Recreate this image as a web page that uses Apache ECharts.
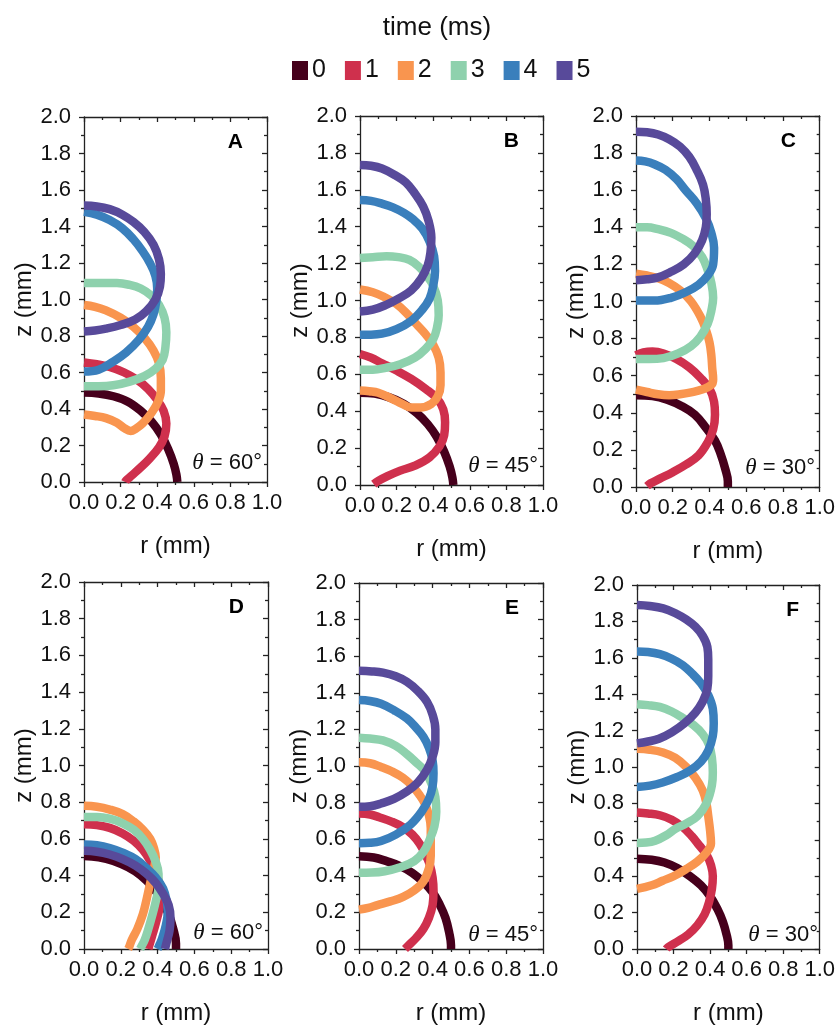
<!DOCTYPE html>
<html>
<head>
<meta charset="utf-8">
<script src="https://cdn.jsdelivr.net/npm/echarts@6/dist/echarts.min.js"></script>
<style>
  html, body { margin: 0; padding: 0; background: #fff; }
  #chart { width: 838px; height: 1026px; }
</style>
</head>
<body>
<div id="chart"></div>
<script>
// time steps (ms) shown in the legend
const times = ["0", "1", "2", "3", "4", "5"];
const panelLetters = ["A", "B", "C", "D", "E", "F"];
const angles = [60, 45, 30, 60, 45, 30];

// droplet profiles [r, z] in mm, one list per time step
const curvesA = [
  [[0, 0.49], [0.08, 0.485], [0.16, 0.47], [0.24, 0.44], [0.31, 0.39], [0.37, 0.33], [0.42, 0.26], [0.46, 0.18], [0.49, 0.1], [0.505, 0.04], [0.51, 0]],
  [[0, 0.655], [0.07, 0.645], [0.14, 0.63], [0.22, 0.6], [0.29, 0.56], [0.35, 0.51], [0.4, 0.45], [0.435, 0.39], [0.45, 0.32], [0.44, 0.25], [0.41, 0.19], [0.36, 0.13], [0.31, 0.08], [0.26, 0.035], [0.23, 0.008], [0.225, 0]],
  [[0, 0.97], [0.06, 0.96], [0.12, 0.94], [0.2, 0.9], [0.27, 0.85], [0.33, 0.79], [0.38, 0.72], [0.41, 0.65], [0.42, 0.57], [0.42, 0.5], [0.405, 0.44], [0.37, 0.38], [0.32, 0.32], [0.28, 0.29], [0.255, 0.28], [0.22, 0.295], [0.18, 0.325], [0.12, 0.35], [0.06, 0.362], [0, 0.37]],
  [[0, 1.09], [0.1, 1.09], [0.18, 1.09], [0.25, 1.08], [0.31, 1.06], [0.37, 1.02], [0.41, 0.97], [0.44, 0.9], [0.45, 0.82], [0.445, 0.74], [0.43, 0.67], [0.39, 0.62], [0.33, 0.58], [0.25, 0.55], [0.16, 0.53], [0.08, 0.525], [0, 0.525]],
  [[0, 1.48], [0.07, 1.465], [0.14, 1.435], [0.21, 1.39], [0.27, 1.33], [0.32, 1.265], [0.36, 1.2], [0.39, 1.13], [0.4, 1.06], [0.395, 0.99], [0.38, 0.92], [0.35, 0.85], [0.3, 0.78], [0.23, 0.71], [0.16, 0.66], [0.08, 0.615], [0, 0.605]],
  [[0, 1.515], [0.07, 1.51], [0.14, 1.495], [0.21, 1.465], [0.27, 1.425], [0.33, 1.37], [0.38, 1.3], [0.41, 1.22], [0.42, 1.14], [0.415, 1.07], [0.39, 1.0], [0.34, 0.935], [0.28, 0.89], [0.2, 0.86], [0.12, 0.84], [0.06, 0.83], [0, 0.825]]
];
const curvesB = [
  [[0, 0.5], [0.08, 0.495], [0.16, 0.475], [0.24, 0.44], [0.31, 0.39], [0.37, 0.33], [0.42, 0.26], [0.46, 0.18], [0.49, 0.1], [0.505, 0.04], [0.51, 0]],
  [[0, 0.71], [0.06, 0.69], [0.12, 0.66], [0.2, 0.62], [0.28, 0.575], [0.36, 0.52], [0.42, 0.47], [0.455, 0.41], [0.465, 0.34], [0.46, 0.27], [0.435, 0.21], [0.38, 0.15], [0.3, 0.105], [0.22, 0.078], [0.15, 0.048], [0.1, 0.022], [0.075, 0.005]],
  [[0, 1.06], [0.07, 1.045], [0.13, 1.02], [0.2, 0.98], [0.26, 0.925], [0.31, 0.87], [0.36, 0.815], [0.4, 0.76], [0.43, 0.69], [0.44, 0.61], [0.44, 0.54], [0.425, 0.48], [0.39, 0.44], [0.33, 0.42], [0.28, 0.42], [0.23, 0.44], [0.17, 0.47], [0.1, 0.5], [0.05, 0.508], [0, 0.512]],
  [[0, 1.23], [0.07, 1.235], [0.145, 1.24], [0.21, 1.235], [0.27, 1.22], [0.32, 1.185], [0.36, 1.14], [0.4, 1.08], [0.425, 1.0], [0.43, 0.92], [0.42, 0.85], [0.4, 0.79], [0.36, 0.74], [0.3, 0.69], [0.22, 0.655], [0.14, 0.635], [0.07, 0.625], [0, 0.625]],
  [[0, 1.545], [0.06, 1.54], [0.12, 1.525], [0.18, 1.505], [0.24, 1.475], [0.29, 1.44], [0.34, 1.39], [0.38, 1.32], [0.405, 1.24], [0.41, 1.16], [0.4, 1.08], [0.38, 1.01], [0.34, 0.95], [0.28, 0.89], [0.2, 0.845], [0.12, 0.82], [0.06, 0.815], [0, 0.815]],
  [[0, 1.735], [0.06, 1.73], [0.12, 1.715], [0.19, 1.68], [0.25, 1.64], [0.3, 1.58], [0.345, 1.51], [0.375, 1.43], [0.39, 1.34], [0.385, 1.26], [0.37, 1.19], [0.335, 1.12], [0.28, 1.055], [0.21, 1.01], [0.14, 0.975], [0.07, 0.95], [0, 0.94]]
];
const curvesC = [
  [[0, 0.495], [0.09, 0.49], [0.17, 0.47], [0.25, 0.435], [0.32, 0.39], [0.38, 0.32], [0.43, 0.25], [0.46, 0.18], [0.485, 0.1], [0.5, 0.03], [0.5, 0]],
  [[0, 0.71], [0.04, 0.725], [0.09, 0.73], [0.15, 0.72], [0.22, 0.69], [0.29, 0.645], [0.35, 0.59], [0.4, 0.53], [0.425, 0.46], [0.43, 0.39], [0.42, 0.31], [0.39, 0.24], [0.34, 0.17], [0.27, 0.12], [0.2, 0.08], [0.13, 0.045], [0.08, 0.02], [0.06, 0.005]],
  [[0, 1.15], [0.06, 1.14], [0.12, 1.125], [0.18, 1.1], [0.24, 1.06], [0.3, 1.0], [0.35, 0.92], [0.38, 0.85], [0.4, 0.78], [0.41, 0.71], [0.415, 0.64], [0.42, 0.58], [0.41, 0.55], [0.36, 0.525], [0.3, 0.51], [0.24, 0.5], [0.18, 0.495], [0.12, 0.5], [0.06, 0.512], [0, 0.525]],
  [[0, 1.4], [0.06, 1.4], [0.12, 1.39], [0.19, 1.37], [0.25, 1.34], [0.31, 1.3], [0.36, 1.24], [0.39, 1.17], [0.41, 1.1], [0.42, 1.02], [0.41, 0.95], [0.39, 0.88], [0.35, 0.81], [0.3, 0.76], [0.23, 0.72], [0.15, 0.695], [0.07, 0.69], [0, 0.69]],
  [[0, 1.76], [0.05, 1.755], [0.1, 1.74], [0.16, 1.71], [0.22, 1.66], [0.27, 1.6], [0.33, 1.53], [0.38, 1.45], [0.41, 1.37], [0.425, 1.29], [0.42, 1.2], [0.39, 1.14], [0.34, 1.09], [0.27, 1.05], [0.19, 1.02], [0.1, 1.005], [0, 1.005]],
  [[0, 1.915], [0.06, 1.912], [0.12, 1.9], [0.18, 1.875], [0.24, 1.835], [0.29, 1.78], [0.33, 1.71], [0.365, 1.63], [0.38, 1.55], [0.385, 1.47], [0.38, 1.4], [0.36, 1.33], [0.32, 1.26], [0.26, 1.2], [0.19, 1.16], [0.12, 1.13], [0.06, 1.12], [0, 1.115]]
];
const curvesD = [
  [[0, 0.507], [0.08, 0.5], [0.16, 0.48], [0.24, 0.445], [0.31, 0.4], [0.37, 0.34], [0.42, 0.27], [0.46, 0.19], [0.485, 0.11], [0.5, 0.03], [0.5, 0]],
  [[0, 0.68], [0.07, 0.675], [0.14, 0.66], [0.21, 0.63], [0.27, 0.59], [0.32, 0.54], [0.36, 0.48], [0.39, 0.42], [0.41, 0.355], [0.42, 0.29], [0.41, 0.22], [0.39, 0.14], [0.37, 0.07], [0.355, 0.02], [0.35, 0]],
  [[0, 0.78], [0.07, 0.775], [0.14, 0.76], [0.21, 0.735], [0.27, 0.695], [0.32, 0.65], [0.36, 0.6], [0.38, 0.55], [0.39, 0.5], [0.38, 0.44], [0.36, 0.36], [0.34, 0.27], [0.32, 0.19], [0.29, 0.11], [0.26, 0.05], [0.245, 0.01], [0.24, 0]],
  [[0, 0.72], [0.07, 0.72], [0.14, 0.71], [0.21, 0.685], [0.27, 0.65], [0.32, 0.6], [0.36, 0.54], [0.39, 0.475], [0.405, 0.41], [0.405, 0.34], [0.39, 0.26], [0.37, 0.18], [0.35, 0.11], [0.33, 0.05], [0.31, 0.01], [0.305, 0]],
  [[0, 0.57], [0.07, 0.565], [0.14, 0.55], [0.21, 0.525], [0.28, 0.49], [0.34, 0.44], [0.39, 0.39], [0.43, 0.33], [0.45, 0.26], [0.455, 0.2], [0.445, 0.13], [0.425, 0.06], [0.405, 0.01], [0.4, 0]],
  [[0, 0.535], [0.07, 0.53], [0.14, 0.515], [0.21, 0.49], [0.28, 0.455], [0.34, 0.41], [0.39, 0.36], [0.43, 0.3], [0.46, 0.24], [0.47, 0.17], [0.465, 0.1], [0.45, 0.04], [0.44, 0]]
];
const curvesE = [
  [[0, 0.507], [0.08, 0.5], [0.15, 0.48], [0.22, 0.455], [0.29, 0.415], [0.35, 0.365], [0.4, 0.31], [0.44, 0.24], [0.47, 0.17], [0.49, 0.09], [0.5, 0.02], [0.5, 0]],
  [[0, 0.74], [0.06, 0.735], [0.11, 0.72], [0.18, 0.695], [0.24, 0.665], [0.29, 0.625], [0.33, 0.575], [0.36, 0.52], [0.385, 0.46], [0.4, 0.39], [0.405, 0.32], [0.4, 0.24], [0.38, 0.17], [0.35, 0.11], [0.31, 0.06], [0.27, 0.02], [0.25, 0]],
  [[0, 1.02], [0.06, 1.015], [0.12, 0.995], [0.18, 0.97], [0.24, 0.935], [0.29, 0.89], [0.33, 0.84], [0.36, 0.79], [0.38, 0.73], [0.39, 0.66], [0.39, 0.58], [0.39, 0.51], [0.38, 0.44], [0.35, 0.37], [0.3, 0.32], [0.24, 0.285], [0.17, 0.26], [0.1, 0.24], [0.05, 0.225], [0, 0.215]],
  [[0, 1.155], [0.06, 1.15], [0.13, 1.14], [0.2, 1.11], [0.26, 1.065], [0.31, 1.02], [0.36, 0.97], [0.395, 0.9], [0.415, 0.83], [0.42, 0.75], [0.41, 0.67], [0.385, 0.6], [0.35, 0.53], [0.3, 0.48], [0.22, 0.445], [0.14, 0.425], [0.07, 0.418], [0, 0.417]],
  [[0, 1.36], [0.06, 1.355], [0.12, 1.34], [0.19, 1.305], [0.26, 1.26], [0.31, 1.21], [0.35, 1.16], [0.38, 1.1], [0.4, 1.03], [0.405, 0.96], [0.4, 0.89], [0.38, 0.82], [0.34, 0.75], [0.28, 0.68], [0.2, 0.625], [0.12, 0.59], [0.06, 0.58], [0, 0.578]],
  [[0, 1.52], [0.07, 1.517], [0.13, 1.51], [0.2, 1.49], [0.26, 1.46], [0.32, 1.41], [0.37, 1.35], [0.4, 1.28], [0.415, 1.2], [0.415, 1.13], [0.4, 1.05], [0.37, 0.98], [0.32, 0.91], [0.26, 0.86], [0.19, 0.82], [0.12, 0.795], [0.06, 0.78], [0, 0.777]]
];
const curvesF = [
  [[0, 0.496], [0.08, 0.49], [0.15, 0.475], [0.22, 0.445], [0.29, 0.4], [0.35, 0.35], [0.4, 0.29], [0.44, 0.22], [0.47, 0.15], [0.49, 0.08], [0.5, 0.02], [0.5, 0]],
  [[0, 0.75], [0.06, 0.745], [0.125, 0.735], [0.19, 0.71], [0.25, 0.67], [0.3, 0.62], [0.34, 0.57], [0.38, 0.52], [0.405, 0.46], [0.415, 0.4], [0.41, 0.33], [0.395, 0.26], [0.37, 0.19], [0.33, 0.13], [0.28, 0.08], [0.22, 0.04], [0.17, 0.01], [0.16, 0]],
  [[0, 1.1], [0.07, 1.095], [0.143, 1.08], [0.21, 1.05], [0.27, 1.0], [0.32, 0.94], [0.36, 0.87], [0.38, 0.8], [0.39, 0.73], [0.4, 0.65], [0.405, 0.58], [0.38, 0.53], [0.33, 0.48], [0.27, 0.44], [0.2, 0.4], [0.14, 0.375], [0.08, 0.35], [0, 0.33]],
  [[0, 1.345], [0.06, 1.34], [0.125, 1.33], [0.19, 1.305], [0.25, 1.27], [0.31, 1.23], [0.36, 1.18], [0.395, 1.12], [0.41, 1.05], [0.415, 0.97], [0.41, 0.9], [0.38, 0.8], [0.33, 0.73], [0.27, 0.69], [0.21, 0.66], [0.16, 0.625], [0.1, 0.595], [0.05, 0.585], [0, 0.583]],
  [[0, 1.635], [0.06, 1.632], [0.125, 1.62], [0.19, 1.595], [0.25, 1.56], [0.3, 1.515], [0.35, 1.46], [0.39, 1.395], [0.415, 1.32], [0.42, 1.24], [0.415, 1.17], [0.39, 1.09], [0.35, 1.03], [0.29, 0.98], [0.22, 0.945], [0.14, 0.915], [0.07, 0.898], [0, 0.89]],
  [[0, 1.89], [0.07, 1.885], [0.143, 1.872], [0.21, 1.845], [0.27, 1.81], [0.32, 1.77], [0.36, 1.72], [0.385, 1.66], [0.39, 1.59], [0.39, 1.5], [0.385, 1.43], [0.36, 1.36], [0.32, 1.3], [0.26, 1.24], [0.19, 1.19], [0.12, 1.155], [0.06, 1.14], [0, 1.13]]
];
const panels = [curvesA, curvesB, curvesC, curvesD, curvesE, curvesF];

const colors = ["#46001c", "#cf304d", "#f9954f", "#8ed1ad", "#3a7fbc", "#584a9a"];
const font = "Liberation Sans, Arial, sans-serif";
const axisColor = "#222";

const grids = [
  { left: 84, top: 117, width: 183, height: 365 },
  { left: 360, top: 116, width: 183, height: 369 },
  { left: 636, top: 116, width: 184, height: 371 },
  { left: 84, top: 582, width: 184, height: 370 },
  { left: 359, top: 583, width: 184, height: 371 },
  { left: 637, top: 585, width: 186, height: 369 },
];

const chart = echarts.init(document.getElementById("chart"));

const lineStyle = { color: axisColor, width: 1.3 };
const fmt = (v) => v.toFixed(1);

let xAxis = [];
let yAxis = [];
let series = [];
let graphic = [];

grids.forEach((g, p) => {
  // bottom + top
  xAxis.push({
    type: "value", gridIndex: p, min: 0, max: 1, interval: 0.2, position: "bottom",
    name: "r (mm)", nameLocation: "middle", nameGap: 52,
    nameTextStyle: { fontSize: 24, color: "#111", fontFamily: font },
    axisLine: { onZero: false, lineStyle: lineStyle },
    axisTick: { inside: false, length: 5, lineStyle: lineStyle },
    minorTick: { show: true, splitNumber: 2, length: 3, lineStyle: lineStyle },
    axisLabel: { fontSize: 22, margin: 10, color: "#111", fontFamily: font, formatter: fmt },
    splitLine: { show: false },
  });
  xAxis.push({
    type: "value", gridIndex: p, min: 0, max: 1, interval: 0.2, position: "top",
    axisLine: { onZero: false, lineStyle: lineStyle },
    axisTick: { inside: true, length: 5, lineStyle: lineStyle },
    minorTick: { show: true, splitNumber: 2, length: 3, lineStyle: lineStyle },
    axisLabel: { show: false },
    splitLine: { show: false },
  });
  // left + right
  yAxis.push({
    type: "value", gridIndex: p, min: 0, max: 2, interval: 0.2, position: "left",
    name: "z (mm)", nameLocation: "middle", nameGap: 44,
    nameTextStyle: { fontSize: 24, color: "#111", fontFamily: font },
    axisLine: { onZero: false, lineStyle: lineStyle },
    axisTick: { inside: false, length: 5, lineStyle: lineStyle },
    minorTick: { show: true, splitNumber: 2, length: 3, lineStyle: lineStyle },
    axisLabel: { fontSize: 22, margin: 13, color: "#111", fontFamily: font, formatter: fmt },
    splitLine: { show: false },
  });
  yAxis.push({
    type: "value", gridIndex: p, min: 0, max: 2, interval: 0.2, position: "right",
    axisLine: { onZero: false, lineStyle: lineStyle },
    axisTick: { inside: true, length: 5, lineStyle: lineStyle },
    minorTick: { show: true, splitNumber: 2, length: 3, lineStyle: lineStyle },
    axisLabel: { show: false },
    splitLine: { show: false },
  });

  panels[p].forEach((pts, t) => {
    series.push({
      name: times[t],
      type: "line",
      xAxisIndex: p * 2,
      yAxisIndex: p * 2,
      data: pts,
      smooth: 0.4,
      showSymbol: false,
      symbol: "none",
      clip: true,
      lineStyle: { width: 8.5, color: colors[t], join: "round" },
      itemStyle: { color: colors[t] },
      z: 2 + t,
    });
  });

  // panel letter
  graphic.push({
    type: "text",
    right: 838 - (g.left + g.width) + 24,
    top: g.top + 15,
    style: { text: panelLetters[p], font: "bold 21px " + font, fill: "#000" },
  });
  // contact angle
  graphic.push({
    type: "text",
    x: g.left + g.width - 5,
    y: g.top + g.height - 8,
    style: {
      text: "{it|θ} = " + angles[p] + "°",
      align: "right",
      verticalAlign: "bottom",
      font: "22px " + font,
      fill: "#111",
      rich: {
        it: { fontStyle: "italic", fontFamily: "Liberation Serif, serif", fontSize: 23, fill: "#111" },
      },
    },
  });
});

graphic.push({
  type: "text",
  x: 437,
  y: 28,
  style: { text: "time (ms)", align: "center", verticalAlign: "middle", font: "26px " + font, fill: "#111" },
});

chart.setOption({
  animation: false,
  backgroundColor: "#fff",
  legend: {
    data: times,
    left: 292,
    top: 58,
    padding: 0,
    icon: "rect",
    itemWidth: 16,
    itemHeight: 19,
    itemGap: 19,
    textStyle: { fontSize: 25, color: "#111", fontFamily: font, padding: [0, 0, 0, -1] },
  },
  grid: grids,
  xAxis: xAxis,
  yAxis: yAxis,
  series: series,
  graphic: graphic,
});
</script>
</body>
</html>
